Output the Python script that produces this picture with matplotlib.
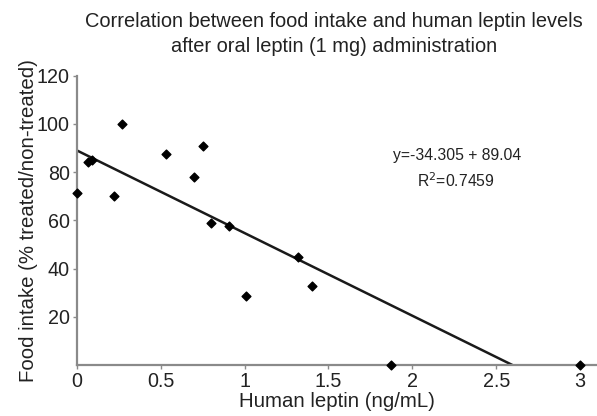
import numpy as np
import matplotlib.pyplot as plt

plt.rcParams['font.family'] = ['Liberation Sans', 'DejaVu Sans']

# data
leptin = [0.0, 0.07, 0.09, 0.22, 0.27, 0.53, 0.70, 0.75, 0.80, 0.91, 1.01, 1.32, 1.40, 1.87, 3.0]
intake = [71.5, 84, 85, 70, 100, 87.6, 78, 90.8, 58.8, 57.7, 28.6, 44.8, 32.8, 0, 0]

# regression line as printed in the chart
slope = -34.305
intercept = 89.04
x_end = -intercept / slope

xticks = [0, 0.5, 1, 1.5, 2, 2.5, 3]
xticklabels = ['0', '0.5', '1', '1.5', '2', '2.5', '3']
yticks = [20, 40, 60, 80, 100, 120]

fig = plt.figure(figsize=(5.97, 4.16), dpi=100)
ax = fig.add_axes([0.1285, 0.1226, 0.8715, 0.6954])

ax.plot([0, x_end], [intercept, 0], color='#1a1a1a', lw=1.8, zorder=2)
ax.scatter(leptin, intake, marker='D', s=20, color='black', zorder=3, clip_on=False)

ax.set_xlim(0, 3.1)
ax.set_ylim(0, 120)
ax.set_xticks(xticks)
ax.set_xticklabels(xticklabels)
ax.set_yticks(yticks)

for s in ['top', 'right']:
    ax.spines[s].set_visible(False)
for s in ['left', 'bottom']:
    ax.spines[s].set_color('#8a8a8a')
    ax.spines[s].set_linewidth(1.6)

ax.tick_params(axis='both', colors='#8a8a8a', labelcolor='#222222', labelsize=14.2,
               length=3, width=1, pad=2)

ax.set_xlabel('Human leptin (ng/mL)', fontsize=14.7, color='#222222', labelpad=1)
ax.set_ylabel('Food intake (% treated/non-treated)', fontsize=14.7, color='#222222', labelpad=-1)

fig.text(0.56, 0.970, 'Correlation between food intake and human leptin levels\n'
         'after oral leptin (1 mg) administration',
         ha='center', va='top', fontsize=14.4, color='#222222', linespacing=1.4)

ax.text(0.766, 0.627, 'y=-34.305 + 89.04', transform=fig.transFigure,
        ha='center', va='center', fontsize=11.3, color='#222222')
ax.text(0.764, 0.566, 'R$^2$=0.7459', transform=fig.transFigure,
        ha='center', va='center', fontsize=11.3, color='#222222')

fig.savefig('out.png', dpi=100)
